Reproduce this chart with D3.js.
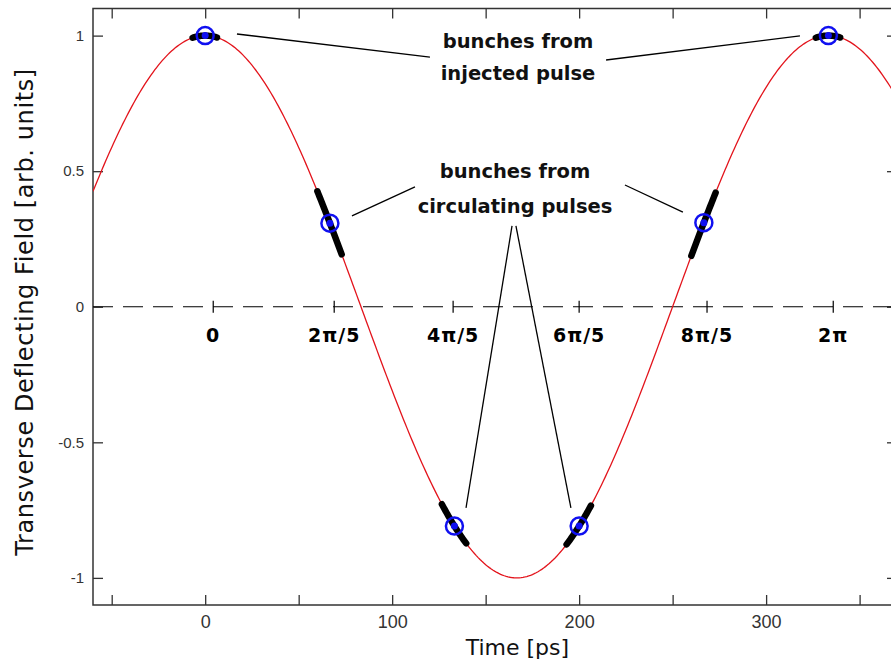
<!DOCTYPE html>
<html>
<head>
<meta charset="utf-8">
<script src="https://cdn.jsdelivr.net/npm/d3@7"></script>
<style>
  body { margin: 0; background: #fff; }
  svg { display: block; }
</style>
</head>
<body>
<script>
// Global variable
const w = 891;
const h = 665;
const margin = {left: 93, top: 8.5, right: 897, bottom: 605};

// field: cos(2*pi*t/T), T = 333.3 ps (3 GHz)
const period = 333.3;
const curveTimes = d3.range(-60, 371, 1);

// bunch times (ps) and their phases
const bunchTimes = [0, 66.7, 133.3, 200, 266.7, 333.3];
const bunchHalfLength = 6.7;
const phaseLabels = ["0", "2\u03c0/5", "4\u03c0/5", "6\u03c0/5", "8\u03c0/5", "2\u03c0"];
const phaseTickTimes = [4.3, 69, 132.6, 200, 268.4, 335.9];

// axis ticks
const xTicks = [-50, 0, 50, 100, 150, 200, 250, 300, 350];
const xTickLabels = [0, 100, 200, 300];
const yTicks = [-1, -0.5, 0, 0.5, 1];
const yTickLabels = ["-1", "-0.5", "0", "0.5", "1"];

// annotation text [t, value]
const injectedText = {t: 167.3, lines: ["bunches from", "injected pulse"], v: [0.954, 0.836]};
const circulatingText = {t: 165.7, lines: ["bunches from", "circulating pulses"], v: [0.475, 0.346]};

// annotation pointer lines [t1, v1, t2, v2]
const pointerLines = [
    [17.0, 1.006, 120.2, 0.921],
    [214.4, 0.910, 318.1, 0.999],
    [78.5, 0.335, 112.2, 0.442],
    [224.5, 0.449, 255.5, 0.349],
    [164.1, 0.298, 139.5, -0.742],
    [166.2, 0.298, 195.6, -0.742]
];

const field = (t) => Math.cos(2 * Math.PI * t / period);

//Create SVG element
let svg = d3.select("body")
            .append("svg")
                .attr("width", w)
                .attr("height", h);

let x = d3.scaleLinear()
        .domain([-60, 370])
        .range([margin.left, margin.right]);

let y = d3.scaleLinear()
        .domain([-1.1, 1.1])
        .range([margin.bottom, margin.top]);

svg.append("clipPath")
    .attr("id", "plot")
    .append("rect")
        .attr("x", margin.left)
        .attr("y", margin.top)
        .attr("width", margin.right - margin.left)
        .attr("height", margin.bottom - margin.top);

// axes with inward ticks
svg.append("g")
    .attr("class", "x axis")
    .attr("transform", "translate(0, " + margin.bottom + ")")
    .call(d3.axisBottom(x).tickValues(xTicks).tickSize(-10).tickSizeOuter(0).tickPadding(10)
        .tickFormat((d) => xTickLabels.includes(d) ? d : ""));

svg.append("g")
    .attr("class", "x axis top")
    .attr("transform", "translate(0, " + margin.top + ")")
    .call(d3.axisTop(x).tickValues(xTicks).tickSize(-10).tickSizeOuter(0).tickFormat(""));

svg.append("g")
    .attr("class", "y axis")
    .attr("transform", "translate(" + margin.left + ", 0)")
    .call(d3.axisLeft(y).tickValues(yTicks).tickSize(-10).tickSizeOuter(0).tickPadding(9)
        .tickFormat((d, i) => yTickLabels[i]));

svg.append("g")
    .attr("class", "y axis right")
    .attr("transform", "translate(" + margin.right + ", 0)")
    .call(d3.axisRight(y).tickValues(yTicks).tickSize(-10).tickSizeOuter(0).tickFormat(""));

svg.selectAll(".axis .domain").remove();
svg.selectAll(".axis line").attr("stroke", "#333").attr("stroke-width", 1.3);

svg.selectAll(".x.axis text")
    .attr("font-family", "Liberation Sans")
    .attr("font-size", 18)
    .attr("fill", "#333");

svg.selectAll(".y.axis text")
    .attr("font-family", "Liberation Sans")
    .attr("font-size", 15)
    .attr("fill", "#333");

// frame
svg.append("rect")
    .attr("x", margin.left)
    .attr("y", margin.top)
    .attr("width", margin.right - margin.left)
    .attr("height", margin.bottom - margin.top)
    .attr("fill", "none")
    .attr("stroke", "#333")
    .attr("stroke-width", 1.5);

let plot = svg.append("g").attr("clip-path", "url(#plot)");

// dashed zero line
plot.append("line")
    .attr("x1", x(-60))
    .attr("x2", x(370))
    .attr("y1", y(0))
    .attr("y2", y(0))
    .attr("stroke", "#000")
    .attr("stroke-width", 1.2)
    .attr("stroke-dasharray", "20,10");

// phase ticks on zero line
plot.selectAll(".phaseTick")
    .data(phaseTickTimes)
    .enter()
    .append("line")
    .attr("class", "phaseTick")
    .attr("x1", (d) => x(d))
    .attr("x2", (d) => x(d))
    .attr("y1", y(0) - 6)
    .attr("y2", y(0) + 6)
    .attr("stroke", "#000")
    .attr("stroke-width", 1.2);

svg.selectAll(".phaseLabel")
    .data(phaseLabels)
    .enter()
    .append("text")
    .attr("class", "phaseLabel")
    .attr("x", (d, i) => x(phaseTickTimes[i]))
    .attr("y", y(0) + 35)
    .attr("text-anchor", "middle")
    .attr("font-family", "DejaVu Sans")
    .attr("font-weight", "bold")
    .attr("font-size", 19)
    .attr("letter-spacing", 1)
    .text((d) => d);

// field curve
plot.append("path")
    .datum(curveTimes)
    .attr("fill", "none")
    .attr("stroke", "#e3141c")
    .attr("stroke-width", 1.3)
    .attr("d", d3.line().x((d) => x(d)).y((d) => y(field(d))));

// bunches along the curve
plot.selectAll(".bunch")
    .data(bunchTimes)
    .enter()
    .append("path")
    .attr("class", "bunch")
    .attr("fill", "none")
    .attr("stroke", "#000")
    .attr("stroke-width", 6.5)
    .attr("stroke-linecap", "round")
    .attr("d", (t) => d3.line().x((d) => x(d)).y((d) => y(field(d)))(
        d3.range(t - bunchHalfLength, t + bunchHalfLength + 0.01, 0.5)));

plot.selectAll(".center")
    .data(bunchTimes)
    .enter()
    .append("circle")
    .attr("class", "center")
    .attr("cx", (d) => x(d))
    .attr("cy", (d) => y(field(d)))
    .attr("r", 8.5)
    .attr("fill", "none")
    .attr("stroke", "#1010f0")
    .attr("stroke-width", 2.5);

plot.selectAll(".dot")
    .data(bunchTimes)
    .enter()
    .append("circle")
    .attr("class", "dot")
    .attr("cx", (d) => x(d))
    .attr("cy", (d) => y(field(d)))
    .attr("r", 3.5)
    .attr("fill", "#1010f0");

// annotations
svg.selectAll(".pointer")
    .data(pointerLines)
    .enter()
    .append("line")
    .attr("class", "pointer")
    .attr("x1", (d) => x(d[0]))
    .attr("y1", (d) => y(d[1]))
    .attr("x2", (d) => x(d[2]))
    .attr("y2", (d) => y(d[3]))
    .attr("stroke", "#000")
    .attr("stroke-width", 1.3);

[injectedText, circulatingText].forEach((a) => {
    svg.selectAll(null)
        .data(a.lines)
        .enter()
        .append("text")
        .attr("x", x(a.t))
        .attr("y", (d, i) => y(a.v[i]))
        .attr("text-anchor", "middle")
        .attr("font-family", "DejaVu Sans")
        .attr("font-weight", "bold")
        .attr("font-size", 19.5)
        .attr("fill", "#111")
        .text((d) => d);
});

// axis titles
svg.append("text")
    .attr("x", x(167))
    .attr("y", 655)
    .attr("text-anchor", "middle")
    .attr("font-family", "DejaVu Sans")
    .attr("font-size", 22)
    .attr("fill", "#111")
    .text("Time [ps]");

svg.append("text")
    .attr("transform", "translate(33, 312) rotate(-90)")
    .attr("text-anchor", "middle")
    .attr("font-family", "DejaVu Sans")
    .attr("font-size", 24)
    .attr("letter-spacing", 0.6)
    .attr("fill", "#111")
    .text("Transverse Deflecting Field [arb. units]");
</script>
</body>
</html>
